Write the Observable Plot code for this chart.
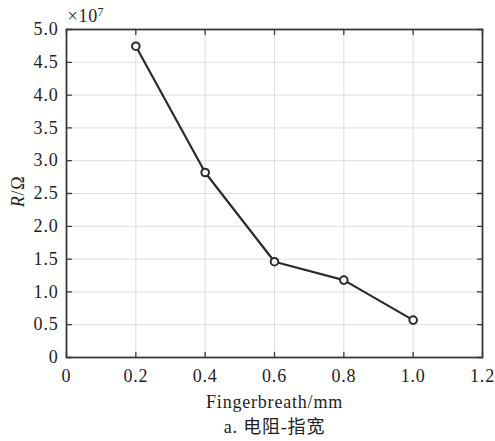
<!DOCTYPE html>
<html>
<head>
<meta charset="utf-8">
<script src="https://cdn.jsdelivr.net/npm/d3@7"></script>
<script src="https://cdn.jsdelivr.net/npm/@observablehq/plot@0.6"></script>
<style>
  html, body { margin: 0; padding: 0; background: #fff; }
  svg { display: block; }
  #chart svg text {
    font-family: "Liberation Serif", "Times New Roman", "Noto Sans CJK SC", serif;
    letter-spacing: 0.8px;
    fill: #1e1e1e;
  }
</style>
</head>
<body>
<div id="chart"></div>
<script>
// Finger width (mm) vs. resistance (Ω)
const fingerWidth = [0.2, 0.4, 0.6, 0.8, 1.0];
const resistance = [4.745e7, 2.82e7, 1.46e7, 1.18e7, 0.57e7];

const xTicks = [0, 0.2, 0.4, 0.6, 0.8, 1.0, 1.2];
const yTicks = [0, 0.5e7, 1e7, 1.5e7, 2e7, 2.5e7, 3e7, 3.5e7, 4e7, 4.5e7, 5e7];

const xLabel = "Fingerbreath/mm";
const caption = "a. 电阻-指宽";

const data = fingerWidth.map((x, i) => ({x, y: resistance[i]}));

const frameColor = "#3a3a3a";
const tickLen = 5;

// straight tick segment for vector marks
const tickShape = {draw(ctx, l) { ctx.moveTo(0, 0); ctx.lineTo(0, -l); }};

const fmtX = d => d === 0 ? "0" : d.toFixed(1);
const fmtY = d => d === 0 ? "0" : (d / 1e7).toFixed(1);

const chart = Plot.plot({
  width: 495,
  height: 441,
  marginLeft: 66,
  marginRight: 13,
  marginTop: 29,
  marginBottom: 84,
  x: {domain: [0, 1.2], axis: null},
  y: {domain: [0, 5e7], axis: null},
  marks: [
    // grid
    Plot.ruleX(xTicks, {stroke: "#dedede", strokeWidth: 1}),
    Plot.ruleY(yTicks, {stroke: "#dedede", strokeWidth: 1}),
    // inward ticks on all four sides
    Plot.vector(xTicks, {x: d => d, y: 0, rotate: 0, length: tickLen, anchor: "start", shape: tickShape, stroke: frameColor, strokeWidth: 1.3}),
    Plot.vector(xTicks, {x: d => d, y: 5e7, rotate: 180, length: tickLen, anchor: "start", shape: tickShape, stroke: frameColor, strokeWidth: 1.3}),
    Plot.vector(yTicks, {x: 0, y: d => d, rotate: 90, length: tickLen, anchor: "start", shape: tickShape, stroke: frameColor, strokeWidth: 1.3}),
    Plot.vector(yTicks, {x: 1.2, y: d => d, rotate: -90, length: tickLen, anchor: "start", shape: tickShape, stroke: frameColor, strokeWidth: 1.3}),
    Plot.frame({stroke: frameColor, strokeWidth: 1.8}),
    // tick labels
    Plot.text(xTicks, {x: d => d, y: 0, text: fmtX, dy: 19, fontSize: 18}),
    Plot.text(yTicks, {x: 0, y: d => d, text: fmtY, dx: -8, textAnchor: "end", fontSize: 18}),
    // data
    Plot.line(data, {x: "x", y: "y", stroke: "#2b2b2b", strokeWidth: 2.2}),
    Plot.dot(data, {x: "x", y: "y", r: 3.8, stroke: "#2b2b2b", strokeWidth: 2, fill: "#fff"}),
    // exponent note
    Plot.text(["×10"], {frameAnchor: "top-left", lineAnchor: "middle", dx: 1, dy: -13, textAnchor: "start", fontSize: 18}),
    Plot.text(["7"], {frameAnchor: "top-left", lineAnchor: "middle", dx: 31, dy: -17, textAnchor: "start", fontSize: 12}),
    // y label: italic R followed by /Ω, rotated
    Plot.text(["R"], {frameAnchor: "left", dx: -48, dy: 2, rotate: -90, textAnchor: "end", fontSize: 18, fontStyle: "italic"}),
    Plot.text(["/Ω"], {frameAnchor: "left", dx: -48, dy: 2, rotate: -90, textAnchor: "start", fontSize: 18}),
    // x label and caption
    Plot.text([xLabel], {frameAnchor: "bottom", lineAnchor: "middle", dy: 45, fontSize: 18}),
    Plot.text([caption], {frameAnchor: "bottom", lineAnchor: "middle", dy: 70, fontSize: 18})
  ]
});

document.getElementById("chart").appendChild(chart);
</script>
</body>
</html>
